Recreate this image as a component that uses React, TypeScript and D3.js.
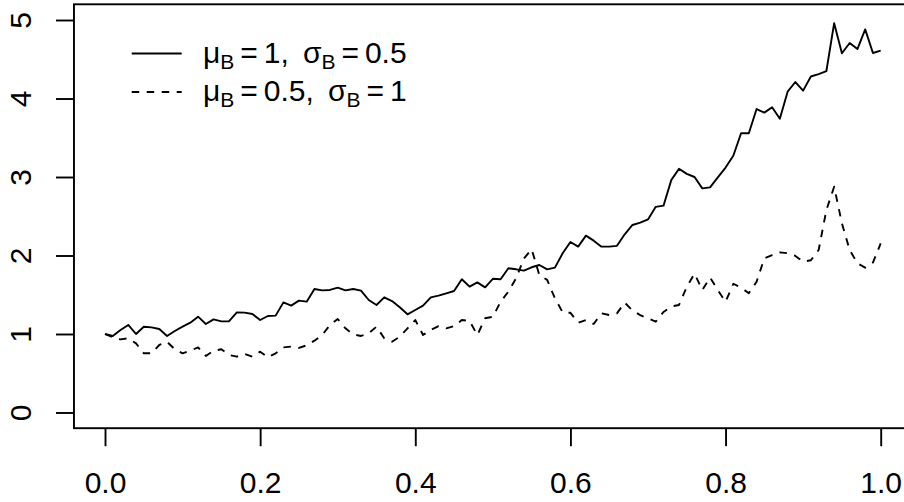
import React, { useEffect, useRef } from "react";
import * as d3 from "d3";

// time grid 0, 0.01, ..., 1
const steps = d3.range(101).map((i) => i / 100);

// mu_B = 1, sigma_B = 0.5 (solid)
const seriesSolid = [
  1.0, 0.975, 1.051, 1.115, 1.0, 1.093, 1.085, 1.064, 0.975, 1.038,
  1.093, 1.144, 1.221, 1.127, 1.187, 1.161, 1.163, 1.276, 1.272, 1.255,
  1.178, 1.229, 1.234, 1.403, 1.361, 1.425, 1.412, 1.573, 1.556, 1.561,
  1.59, 1.556, 1.573, 1.552, 1.433, 1.369, 1.467, 1.42, 1.34, 1.251,
  1.306, 1.361, 1.467, 1.488, 1.518, 1.548, 1.697, 1.603, 1.658, 1.594,
  1.703, 1.697, 1.837, 1.824, 1.807, 1.85, 1.879, 1.824, 1.845, 2.028,
  2.172, 2.113, 2.253, 2.189, 2.113, 2.113, 2.123, 2.27, 2.389, 2.418,
  2.46, 2.62, 2.635, 2.96, 3.106, 3.04, 3.0, 2.855, 2.868, 2.996,
  3.12, 3.27, 3.557, 3.557, 3.866, 3.82, 3.888, 3.743, 4.087, 4.21,
  4.1, 4.28, 4.31, 4.35, 4.96, 4.576, 4.707, 4.63, 4.88, 4.58,
  4.61,
];

// mu_B = 0.5, sigma_B = 1 (dashed)
const seriesDashed = [
  1.0, 0.958, 0.932, 0.945, 0.881, 0.754, 0.754, 0.86, 0.9, 0.805,
  0.754, 0.787, 0.83, 0.72, 0.787, 0.805, 0.732, 0.711, 0.745, 0.711,
  0.775, 0.703, 0.754, 0.83, 0.839, 0.822, 0.856, 0.915, 0.987, 1.115,
  1.191, 1.072, 0.996, 0.975, 1.009, 1.093, 0.945, 0.902, 0.966, 1.072,
  1.178, 0.987, 1.051, 1.1, 1.072, 1.1, 1.178, 1.166, 0.987, 1.2,
  1.22, 1.41, 1.54, 1.71, 1.96, 2.08, 1.75, 1.69, 1.455, 1.276,
  1.27, 1.144, 1.178, 1.127, 1.263, 1.242, 1.263, 1.4, 1.3, 1.24,
  1.2, 1.157, 1.28, 1.35, 1.37, 1.6, 1.77, 1.56, 1.72, 1.56,
  1.41, 1.64, 1.59, 1.52, 1.666, 1.964, 2.006, 2.04, 2.03, 1.994,
  1.92, 1.94, 2.07, 2.58, 2.876, 2.41, 2.07, 1.9, 1.845, 1.91,
  2.155,
];

const xTicks = [0, 0.2, 0.4, 0.6, 0.8, 1.0];
const yTicks = [0, 1, 2, 3, 4, 5];

const legendRows = [
  { mu: "1", sigma: "0.5", dash: null },
  { mu: "0.5", sigma: "1", dash: "7.5 7.5" },
];

const FONT = "'Liberation Sans', Arial, Helvetica, sans-serif";

export default function App() {
  const svgRef = useRef<SVGSVGElement>(null);

  const width = 904;
  const height = 502;

  // R style: axis range padded 4% on each side
  const x = d3.scaleLinear().domain([0, 1]).range([105, 880.7]);
  const y = d3.scaleLinear().domain([0, 5]).range([412.5, 20]);

  useEffect(() => {
    const svg = d3.select(svgRef.current);

    const line = d3
      .line<number>()
      .x((d, i) => x(steps[i]))
      .y((d) => y(d));

    svg
      .select(".lines")
      .selectAll("path")
      .data([
        { values: seriesSolid, dash: null },
        { values: seriesDashed, dash: "7.5 7.5" },
      ])
      .join("path")
      .attr("d", (s) => line(s.values))
      .attr("fill", "none")
      .attr("stroke", "black")
      .attr("stroke-width", 1.9)
      .attr("stroke-linejoin", "round")
      .attr("stroke-dasharray", (s) => s.dash);

    // x axis
    const xAxis = d3
      .axisBottom(x)
      .tickValues(xTicks)
      .tickFormat(d3.format(".1f"))
      .tickSize(18)
      .tickPadding(26);
    const gx = svg
      .select<SVGGElement>(".x-axis")
      .attr("transform", `translate(0, ${y(-0.2)})`)
      .call(xAxis);
    gx.select(".domain").remove();
    gx.selectAll("line").attr("stroke", "black").attr("stroke-width", 1.9);
    gx.selectAll("text")
      .attr("fill", "black")
      .style("font-size", "30px")
      .style("font-family", FONT);

    // y axis, labels parallel to axis
    const yAxis = d3.axisLeft(y).tickValues(yTicks).tickFormat(d3.format("d")).tickSize(18);
    const gy = svg
      .select<SVGGElement>(".y-axis")
      .attr("transform", `translate(${x(-0.04)}, 0)`)
      .call(yAxis);
    gy.select(".domain").remove();
    gy.selectAll("line").attr("stroke", "black").attr("stroke-width", 1.9);
    gy.selectAll("text")
      .attr("fill", "black")
      .attr("transform", "rotate(-90)")
      .attr("x", 0)
      .attr("y", -43)
      .attr("dy", null)
      .attr("text-anchor", "middle")
      .style("font-size", "30px")
      .style("font-family", FONT);
  }, []);

  const boxX0 = x(-0.04);
  const boxX1 = x(1.04);
  const boxY0 = y(5.2);
  const boxY1 = y(-0.2);

  return (
    <svg
      ref={svgRef}
      width={width}
      height={height}
      style={{ position: "absolute", left: 0, top: 0, background: "white" }}
    >
      <rect x={0} y={0} width={width} height={height} fill="white" />
      <g className="lines" />
      <rect
        x={boxX0}
        y={boxY0}
        width={boxX1 - boxX0}
        height={boxY1 - boxY0}
        fill="none"
        stroke="black"
        strokeWidth={1.9}
      />
      <g className="x-axis" />
      <g className="y-axis" />
      <g className="legend" fontFamily={FONT} fontSize={30}>
        {legendRows.map((row, i) => {
          const ly = 53.5 + i * 38.5;
          return (
            <g key={i}>
              <line
                x1={131.7}
                x2={181.7}
                y1={ly}
                y2={ly}
                stroke="black"
                strokeWidth={1.9}
                strokeDasharray={row.dash ?? undefined}
              />
              <text x={203} y={ly + 9}>
                <tspan>μ</tspan>
                <tspan fontSize={21} dy={6}>B</tspan>
                <tspan dy={-6} dx={6}>=</tspan>
                <tspan dx={6}>{row.mu},</tspan>
                <tspan dx={14}>σ</tspan>
                <tspan fontSize={21} dy={6}>B</tspan>
                <tspan dy={-6} dx={6}>=</tspan>
                <tspan dx={6}>{row.sigma}</tspan>
              </text>
            </g>
          );
        })}
      </g>
    </svg>
  );
}
